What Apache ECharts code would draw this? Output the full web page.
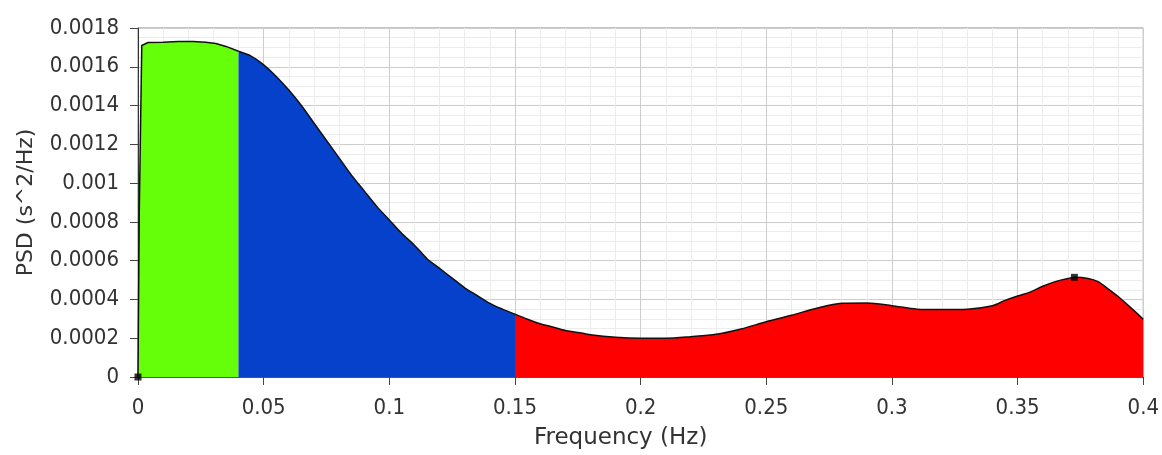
<!DOCTYPE html>
<html>
<head>
<meta charset="utf-8">
<script src="https://cdn.jsdelivr.net/npm/echarts@6/dist/echarts.min.js"></script>
<style>
  html, body { margin: 0; padding: 0; background: #fff; }
  #psd_chart { width: 1162px; height: 455px; }
</style>
</head>
<body>
<div id="psd_chart"></div>
<script>
// VLF band (0 - 0.04 Hz)
let vlfFreq = [0, 0.0005, 0.0015, 0.004, 0.01, 0.016, 0.022, 0.027, 0.031, 0.035, 0.04];
let vlfPsd = [0, 0.00085, 0.00171, 0.001725, 0.001727, 0.00173, 0.00173, 0.001727, 0.00172, 0.001705, 0.00168];

// LF band (0.04 - 0.15 Hz)
let lfFreq = [0.04, 0.045, 0.05, 0.055, 0.06, 0.065, 0.07, 0.075, 0.08, 0.085, 0.09, 0.095,
              0.1, 0.105, 0.11, 0.115, 0.12, 0.125, 0.13, 0.135, 0.14, 0.145, 0.15];
let lfPsd = [0.00168, 0.001655, 0.00161, 0.00155, 0.00148, 0.0014, 0.00131, 0.00122, 0.00113, 0.00104, 0.00096, 0.00088,
             0.00081, 0.00074, 0.00068, 0.00061, 0.00056, 0.00051, 0.00046, 0.00042, 0.00038, 0.00035, 0.000324];

// HF band (0.15 - 0.4 Hz)
let hfFreq = [0.15, 0.155, 0.16, 0.165, 0.17, 0.175, 0.18, 0.19, 0.2, 0.21, 0.22, 0.23, 0.24, 0.25, 0.26,
              0.27, 0.28, 0.29, 0.3, 0.31, 0.32, 0.33, 0.34, 0.345, 0.35, 0.355, 0.36, 0.365, 0.37, 0.373,
              0.378, 0.382, 0.386, 0.39, 0.395, 0.4];
let hfPsd = [0.000324, 0.000298, 0.000275, 0.000258, 0.00024, 0.00023, 0.000218, 0.000205, 0.0002, 0.0002, 0.000208,
             0.00022, 0.000248, 0.000285, 0.000318, 0.000355, 0.00038, 0.000382, 0.000368, 0.00035, 0.000348, 0.00035,
             0.000368, 0.000395, 0.000418, 0.000438, 0.000468, 0.000492, 0.000508, 0.000514, 0.000508, 0.000492,
             0.000455, 0.000415, 0.000358, 0.000298];

// cursor markers
let markFreq = [0, 0.3726];
let markPsd = [0, 0.000514];

function pairs(xs, ys) {
    return xs.map(function (x, i) { return [x, ys[i]]; });
}

let fontName = 'DejaVu Sans Condensed';

function bandSeries(name, xs, ys, fill, smooth) {
    return {
        name: name,
        type: 'line',
        data: pairs(xs, ys),
        showSymbol: false,
        smooth: smooth,
        lineStyle: { color: '#111', width: 1.5 },
        areaStyle: { color: fill, opacity: 1 },
        z: 2
    };
}

let chart = echarts.init(document.getElementById('psd_chart'));
let option = {
    animation: false,
    backgroundColor: '#fff',
    grid: {
        left: 138, right: 18, top: 28, bottom: 77,
        show: true, borderColor: '#8a8a8a', borderWidth: 1
    },
    xAxis: {
        type: 'value',
        position: 'bottom',
        min: 0, max: 0.4, interval: 0.05,
        name: 'Frequency (Hz)',
        nameLocation: 'middle',
        nameGap: 50,
        nameTextStyle: { fontFamily: 'DejaVu Sans', fontSize: 23, color: '#333', padding: [0, 40, 0, 0] },
        axisLine: { show: true, onZero: false, lineStyle: { color: '#555' } },
        axisTick: { show: true, inside: false, length: 8, lineStyle: { color: '#444' } },
        axisLabel: {
            margin: 20, fontFamily: fontName, fontSize: 22, color: '#333',
            formatter: function (v) { return String(+v.toFixed(2)); }
        },
        splitLine: { show: true, lineStyle: { color: '#cdcdcd', width: 1 } },
        minorTick: { show: false, splitNumber: 5 },
        minorSplitLine: { show: true, lineStyle: { color: '#ececec', width: 1 } }
    },
    yAxis: {
        type: 'value',
        position: 'left',
        min: 0, max: 0.0018, interval: 0.0002,
        name: 'PSD (s^2/Hz)',
        nameLocation: 'middle',
        nameGap: 101,
        nameRotate: 90,
        nameTextStyle: { fontFamily: 'DejaVu Sans', fontSize: 22, color: '#333' },
        axisLine: { show: true, onZero: false, lineStyle: { color: '#333', width: 1 } },
        axisTick: { show: true, inside: false, interval: 0, length: 8, lineStyle: { color: '#444', width: 1, opacity: 1 } },
        axisLabel: {
            margin: 19, fontFamily: fontName, fontSize: 22, color: '#333',
            formatter: function (v) { return String(+v.toFixed(4)); }
        },
        splitLine: { show: true, lineStyle: { color: '#cdcdcd', width: 1 } },
        minorTick: { show: false, splitNumber: 4 },
        minorSplitLine: { show: true, lineStyle: { color: '#ececec', width: 1 } }
    },
    series: [
        bandSeries('VLF', vlfFreq, vlfPsd, '#66ff0a', false),
        bandSeries('LF', lfFreq, lfPsd, '#0641cc', 0.3),
        bandSeries('HF', hfFreq, hfPsd, '#ff0000', 0.3),
        {
            name: 'cursor',
            type: 'scatter',
            data: pairs(markFreq, markPsd),
            symbol: 'rect',
            symbolSize: 7,
            itemStyle: { color: '#000' },
            z: 5
        }
    ]
};
chart.setOption(option);
</script>
</body>
</html>
